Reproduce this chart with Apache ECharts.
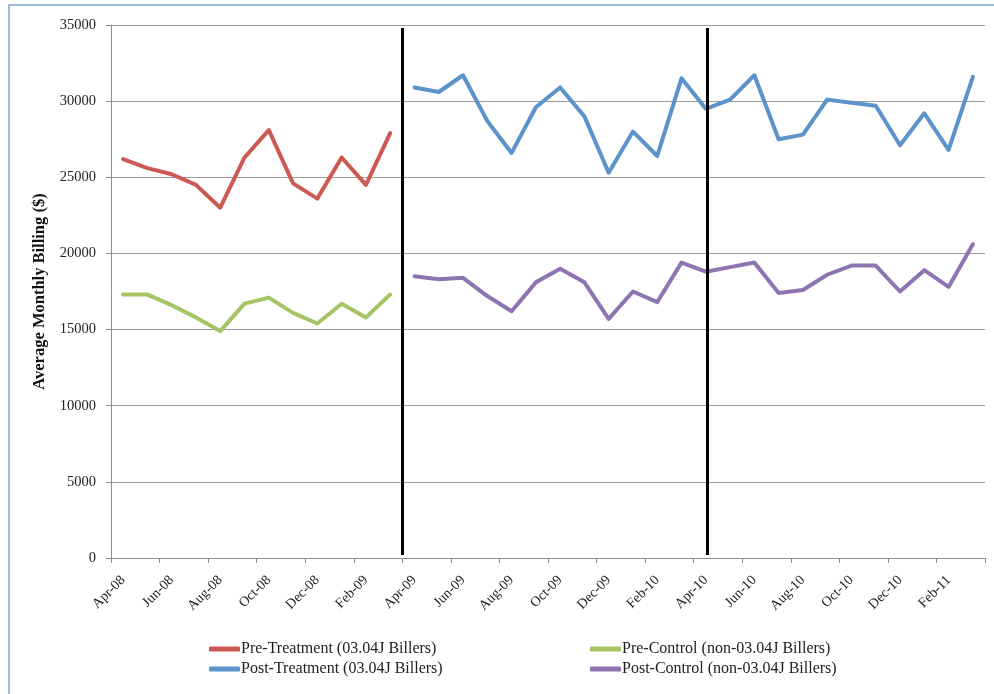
<!DOCTYPE html>
<html>
<head>
<meta charset="utf-8">
<script src="https://cdn.jsdelivr.net/npm/echarts@6/dist/echarts.min.js"></script>
<style>
  html, body { margin: 0; padding: 0; background: #ffffff; }
  #chart { width: 994px; height: 694px; }
</style>
</head>
<body>
<div id="chart"></div>
<script>
  // months Apr-08 .. Mar-11
  var months = ['Apr-08', 'May-08', 'Jun-08', 'Jul-08', 'Aug-08', 'Sep-08', 'Oct-08', 'Nov-08', 'Dec-08', 'Jan-09', 'Feb-09', 'Mar-09',
    'Apr-09', 'May-09', 'Jun-09', 'Jul-09', 'Aug-09', 'Sep-09', 'Oct-09', 'Nov-09', 'Dec-09', 'Jan-10', 'Feb-10', 'Mar-10',
    'Apr-10', 'May-10', 'Jun-10', 'Jul-10', 'Aug-10', 'Sep-10', 'Oct-10', 'Nov-10', 'Dec-10', 'Jan-11', 'Feb-11', 'Mar-11'];

  var preTreatment = [26200, 25600, 25200, 24500, 23000, 26300, 28100, 24600, 23600, 26300, 24500, 27900];
  var preControl = [17300, 17300, 16600, 15800, 14900, 16700, 17100, 16100, 15400, 16700, 15800, 17300];
  var postTreatment = [30900, 30600, 31700, 28700, 26600, 29600, 30900, 29000, 25300, 28000, 26400, 31500,
    29500, 30100, 31700, 27500, 27800, 30100, 29900, 29700, 27100, 29200, 26800, 31600];
  var postControl = [18500, 18300, 18400, 17200, 16200, 18100, 19000, 18100, 15700, 17500, 16800, 19400,
    18800, 19100, 19400, 17400, 17600, 18600, 19200, 19200, 17500, 18900, 17800, 20600];

  // black divider lines, in category units (0..36)
  var dividers = [12, 24.55];

  var yTicks = [0, 5000, 10000, 15000, 20000, 25000, 30000, 35000];

  function pad(n) {
    var a = [];
    for (var i = 0; i < n; i++) a.push(null);
    return a;
  }

  var fontFamily = '"Liberation Serif", "DejaVu Serif", serif';

  var myChart = echarts.init(document.getElementById('chart'));

  function lineSeries(name, data, color) {
    return {
      name: name,
      type: 'line',
      data: data,
      showSymbol: false,
      symbol: 'none',
      lineStyle: { width: 4, color: color, join: 'round', cap: 'round' },
      itemStyle: { color: color },
      connectNulls: false,
      z: 3
    };
  }

  var legendText = { fontFamily: fontFamily, fontSize: 16, color: '#222', padding: [0, 0, 0, -4] };

  myChart.setOption({
    animation: false,
    backgroundColor: '#ffffff',
    textStyle: { fontFamily: fontFamily },
    graphic: [
      {
        type: 'rect',
        shape: { x: 9, y: 5, width: 1000, height: 700 },
        style: { fill: 'none', stroke: '#7ea6d6', lineWidth: 1.5 },
        silent: true
      }
    ],
    grid: {
      left: 111,
      right: 9,
      top: 25,
      bottom: 136,
      containLabel: false
    },
    legend: [
      {
        data: ['Pre-Treatment (03.04J Billers)', 'Post-Treatment (03.04J Billers)'],
        orient: 'vertical',
        left: 204,
        top: 636,
        itemWidth: 31,
        itemHeight: 5,
        itemGap: 4,
        icon: 'roundRect',
        textStyle: legendText
      },
      {
        data: ['Pre-Control (non-03.04J Billers)', 'Post-Control (non-03.04J Billers)'],
        orient: 'vertical',
        left: 585,
        top: 636,
        itemWidth: 31,
        itemHeight: 5,
        itemGap: 4,
        icon: 'roundRect',
        textStyle: legendText
      }
    ],
    xAxis: [
      {
        type: 'category',
        data: months,
        boundaryGap: true,
        axisLine: { lineStyle: { color: '#8c8c8c', width: 1 } },
        axisTick: { show: true, interval: 1, length: 5, alignWithLabel: false, lineStyle: { color: '#8c8c8c' } },
        axisLabel: {
          interval: 1,
          rotate: 45,
          fontFamily: fontFamily,
          fontSize: 14,
          color: '#222',
          margin: 20
        },
        splitLine: { show: false }
      },
      {
        type: 'value',
        min: 0,
        max: 36,
        show: false
      }
    ],
    yAxis: {
      type: 'value',
      min: 0,
      max: 35000,
      interval: 5000,
      name: 'Average Monthly Billing ($)',
      nameLocation: 'middle',
      nameGap: 63,
      nameRotate: 90,
      nameTextStyle: { fontFamily: fontFamily, fontSize: 16.5, fontWeight: 'bold', color: '#111' },
      axisLine: { show: true, lineStyle: { color: '#8c8c8c', width: 1 } },
      axisTick: { show: true, length: 5, lineStyle: { color: '#8c8c8c' } },
      axisLabel: {
        fontFamily: fontFamily,
        fontSize: 14.5,
        color: '#222',
        margin: 15,
        formatter: function (v) { return yTicks.indexOf(v) >= 0 ? String(v) : ''; }
      },
      splitLine: { show: true, lineStyle: { color: '#9a9a9a', width: 1 } }
    },
    series: [
      lineSeries('Pre-Treatment (03.04J Billers)', preTreatment.concat(pad(24)), '#cd5a52'),
      lineSeries('Pre-Control (non-03.04J Billers)', preControl.concat(pad(24)), '#a5c464'),
      lineSeries('Post-Treatment (03.04J Billers)', pad(12).concat(postTreatment), '#5b93ca'),
      lineSeries('Post-Control (non-03.04J Billers)', pad(12).concat(postControl), '#8e74b2'),
      {
        name: 'dividers',
        type: 'line',
        xAxisIndex: 1,
        data: [],
        silent: true,
        markLine: {
          symbol: ['none', 'none'],
          silent: true,
          label: { show: false },
          lineStyle: { color: '#000000', width: 3, type: 'solid' },
          data: dividers.map(function (d) {
            return [{ coord: [d, 34800] }, { coord: [d, 200] }];
          })
        },
        z: 4
      }
    ]
  });
</script>
</body>
</html>
